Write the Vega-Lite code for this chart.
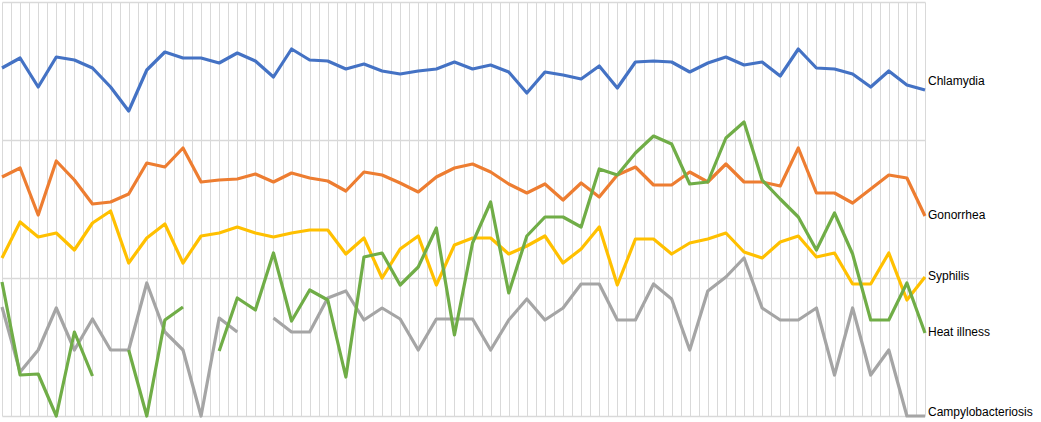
{
  "$schema": "https://vega.github.io/schema/vega-lite/v6.json",
  "width": 923,
  "height": 414,
  "autosize": {"type": "none"},
  "padding": {"left": 2, "top": 2, "right": 116, "bottom": 6},
  "background": "#ffffff",
  "config": {"view": {"stroke": null}},
  "datasets": {
    "rows": [
      {"s":"Campylobacteriosis","i":0,"v":109},{"s":"Campylobacteriosis","i":1,"v":44},{"s":"Campylobacteriosis","i":2,"v":66},{"s":"Campylobacteriosis","i":3,"v":108},{"s":"Campylobacteriosis","i":4,"v":66},{"s":"Campylobacteriosis","i":5,"v":97},{"s":"Campylobacteriosis","i":6,"v":66},{"s":"Campylobacteriosis","i":7,"v":66},{"s":"Campylobacteriosis","i":8,"v":133},{"s":"Campylobacteriosis","i":9,"v":84},{"s":"Campylobacteriosis","i":10,"v":66},{"s":"Campylobacteriosis","i":11,"v":0},{"s":"Campylobacteriosis","i":12,"v":98},{"s":"Campylobacteriosis","i":13,"v":84},{"s":"Campylobacteriosis","i":14,"v":null},{"s":"Campylobacteriosis","i":15,"v":98},{"s":"Campylobacteriosis","i":16,"v":84},{"s":"Campylobacteriosis","i":17,"v":84},{"s":"Campylobacteriosis","i":18,"v":118},{"s":"Campylobacteriosis","i":19,"v":125},{"s":"Campylobacteriosis","i":20,"v":96},{"s":"Campylobacteriosis","i":21,"v":108},{"s":"Campylobacteriosis","i":22,"v":97},{"s":"Campylobacteriosis","i":23,"v":66},{"s":"Campylobacteriosis","i":24,"v":97},{"s":"Campylobacteriosis","i":25,"v":97},{"s":"Campylobacteriosis","i":26,"v":97},{"s":"Campylobacteriosis","i":27,"v":66},{"s":"Campylobacteriosis","i":28,"v":96},{"s":"Campylobacteriosis","i":29,"v":117},{"s":"Campylobacteriosis","i":30,"v":96},{"s":"Campylobacteriosis","i":31,"v":108},{"s":"Campylobacteriosis","i":32,"v":132},{"s":"Campylobacteriosis","i":33,"v":132},{"s":"Campylobacteriosis","i":34,"v":96},{"s":"Campylobacteriosis","i":35,"v":96},{"s":"Campylobacteriosis","i":36,"v":132},{"s":"Campylobacteriosis","i":37,"v":117},{"s":"Campylobacteriosis","i":38,"v":66},{"s":"Campylobacteriosis","i":39,"v":125},{"s":"Campylobacteriosis","i":40,"v":139},{"s":"Campylobacteriosis","i":41,"v":158},{"s":"Campylobacteriosis","i":42,"v":108},{"s":"Campylobacteriosis","i":43,"v":96},{"s":"Campylobacteriosis","i":44,"v":96},{"s":"Campylobacteriosis","i":45,"v":108},{"s":"Campylobacteriosis","i":46,"v":41},{"s":"Campylobacteriosis","i":47,"v":108},{"s":"Campylobacteriosis","i":48,"v":41},{"s":"Campylobacteriosis","i":49,"v":66},{"s":"Campylobacteriosis","i":50,"v":0},{"s":"Campylobacteriosis","i":51,"v":0},
      {"s":"Chlamydia","i":0,"v":348},{"s":"Chlamydia","i":1,"v":358},{"s":"Chlamydia","i":2,"v":329},{"s":"Chlamydia","i":3,"v":359},{"s":"Chlamydia","i":4,"v":356},{"s":"Chlamydia","i":5,"v":348},{"s":"Chlamydia","i":6,"v":329},{"s":"Chlamydia","i":7,"v":305},{"s":"Chlamydia","i":8,"v":346},{"s":"Chlamydia","i":9,"v":364},{"s":"Chlamydia","i":10,"v":358},{"s":"Chlamydia","i":11,"v":358},{"s":"Chlamydia","i":12,"v":353},{"s":"Chlamydia","i":13,"v":363},{"s":"Chlamydia","i":14,"v":355},{"s":"Chlamydia","i":15,"v":339},{"s":"Chlamydia","i":16,"v":367},{"s":"Chlamydia","i":17,"v":356},{"s":"Chlamydia","i":18,"v":355},{"s":"Chlamydia","i":19,"v":347},{"s":"Chlamydia","i":20,"v":352},{"s":"Chlamydia","i":21,"v":345},{"s":"Chlamydia","i":22,"v":342},{"s":"Chlamydia","i":23,"v":345},{"s":"Chlamydia","i":24,"v":347},{"s":"Chlamydia","i":25,"v":354},{"s":"Chlamydia","i":26,"v":347},{"s":"Chlamydia","i":27,"v":351},{"s":"Chlamydia","i":28,"v":344},{"s":"Chlamydia","i":29,"v":323},{"s":"Chlamydia","i":30,"v":344},{"s":"Chlamydia","i":31,"v":341},{"s":"Chlamydia","i":32,"v":337},{"s":"Chlamydia","i":33,"v":350},{"s":"Chlamydia","i":34,"v":328},{"s":"Chlamydia","i":35,"v":354},{"s":"Chlamydia","i":36,"v":355},{"s":"Chlamydia","i":37,"v":354},{"s":"Chlamydia","i":38,"v":344},{"s":"Chlamydia","i":39,"v":353},{"s":"Chlamydia","i":40,"v":359},{"s":"Chlamydia","i":41,"v":351},{"s":"Chlamydia","i":42,"v":354},{"s":"Chlamydia","i":43,"v":340},{"s":"Chlamydia","i":44,"v":367},{"s":"Chlamydia","i":45,"v":348},{"s":"Chlamydia","i":46,"v":347},{"s":"Chlamydia","i":47,"v":342},{"s":"Chlamydia","i":48,"v":329},{"s":"Chlamydia","i":49,"v":345},{"s":"Chlamydia","i":50,"v":331},{"s":"Chlamydia","i":51,"v":326},
      {"s":"Gonorrhea","i":0,"v":239},{"s":"Gonorrhea","i":1,"v":248},{"s":"Gonorrhea","i":2,"v":201},{"s":"Gonorrhea","i":3,"v":255},{"s":"Gonorrhea","i":4,"v":236},{"s":"Gonorrhea","i":5,"v":212},{"s":"Gonorrhea","i":6,"v":214},{"s":"Gonorrhea","i":7,"v":222},{"s":"Gonorrhea","i":8,"v":253},{"s":"Gonorrhea","i":9,"v":249},{"s":"Gonorrhea","i":10,"v":268},{"s":"Gonorrhea","i":11,"v":234},{"s":"Gonorrhea","i":12,"v":236},{"s":"Gonorrhea","i":13,"v":237},{"s":"Gonorrhea","i":14,"v":242},{"s":"Gonorrhea","i":15,"v":234},{"s":"Gonorrhea","i":16,"v":243},{"s":"Gonorrhea","i":17,"v":238},{"s":"Gonorrhea","i":18,"v":235},{"s":"Gonorrhea","i":19,"v":225},{"s":"Gonorrhea","i":20,"v":244},{"s":"Gonorrhea","i":21,"v":241},{"s":"Gonorrhea","i":22,"v":233},{"s":"Gonorrhea","i":23,"v":224},{"s":"Gonorrhea","i":24,"v":239},{"s":"Gonorrhea","i":25,"v":248},{"s":"Gonorrhea","i":26,"v":252},{"s":"Gonorrhea","i":27,"v":244},{"s":"Gonorrhea","i":28,"v":232},{"s":"Gonorrhea","i":29,"v":223},{"s":"Gonorrhea","i":30,"v":232},{"s":"Gonorrhea","i":31,"v":216},{"s":"Gonorrhea","i":32,"v":233},{"s":"Gonorrhea","i":33,"v":219},{"s":"Gonorrhea","i":34,"v":241},{"s":"Gonorrhea","i":35,"v":249},{"s":"Gonorrhea","i":36,"v":231},{"s":"Gonorrhea","i":37,"v":231},{"s":"Gonorrhea","i":38,"v":244},{"s":"Gonorrhea","i":39,"v":234},{"s":"Gonorrhea","i":40,"v":252},{"s":"Gonorrhea","i":41,"v":234},{"s":"Gonorrhea","i":42,"v":234},{"s":"Gonorrhea","i":43,"v":230},{"s":"Gonorrhea","i":44,"v":268},{"s":"Gonorrhea","i":45,"v":223},{"s":"Gonorrhea","i":46,"v":223},{"s":"Gonorrhea","i":47,"v":213},{"s":"Gonorrhea","i":48,"v":227},{"s":"Gonorrhea","i":49,"v":241},{"s":"Gonorrhea","i":50,"v":238},{"s":"Gonorrhea","i":51,"v":200},
      {"s":"Syphilis","i":0,"v":158},{"s":"Syphilis","i":1,"v":194},{"s":"Syphilis","i":2,"v":179},{"s":"Syphilis","i":3,"v":183},{"s":"Syphilis","i":4,"v":166},{"s":"Syphilis","i":5,"v":193},{"s":"Syphilis","i":6,"v":205},{"s":"Syphilis","i":7,"v":153},{"s":"Syphilis","i":8,"v":178},{"s":"Syphilis","i":9,"v":192},{"s":"Syphilis","i":10,"v":153},{"s":"Syphilis","i":11,"v":180},{"s":"Syphilis","i":12,"v":183},{"s":"Syphilis","i":13,"v":189},{"s":"Syphilis","i":14,"v":183},{"s":"Syphilis","i":15,"v":179},{"s":"Syphilis","i":16,"v":183},{"s":"Syphilis","i":17,"v":186},{"s":"Syphilis","i":18,"v":186},{"s":"Syphilis","i":19,"v":162},{"s":"Syphilis","i":20,"v":178},{"s":"Syphilis","i":21,"v":138},{"s":"Syphilis","i":22,"v":167},{"s":"Syphilis","i":23,"v":180},{"s":"Syphilis","i":24,"v":131},{"s":"Syphilis","i":25,"v":171},{"s":"Syphilis","i":26,"v":178},{"s":"Syphilis","i":27,"v":178},{"s":"Syphilis","i":28,"v":162},{"s":"Syphilis","i":29,"v":170},{"s":"Syphilis","i":30,"v":180},{"s":"Syphilis","i":31,"v":153},{"s":"Syphilis","i":32,"v":167},{"s":"Syphilis","i":33,"v":189},{"s":"Syphilis","i":34,"v":131},{"s":"Syphilis","i":35,"v":177},{"s":"Syphilis","i":36,"v":177},{"s":"Syphilis","i":37,"v":162},{"s":"Syphilis","i":38,"v":173},{"s":"Syphilis","i":39,"v":177},{"s":"Syphilis","i":40,"v":183},{"s":"Syphilis","i":41,"v":164},{"s":"Syphilis","i":42,"v":158},{"s":"Syphilis","i":43,"v":174},{"s":"Syphilis","i":44,"v":180},{"s":"Syphilis","i":45,"v":159},{"s":"Syphilis","i":46,"v":163},{"s":"Syphilis","i":47,"v":132},{"s":"Syphilis","i":48,"v":132},{"s":"Syphilis","i":49,"v":163},{"s":"Syphilis","i":50,"v":116},{"s":"Syphilis","i":51,"v":139},
      {"s":"Heat illness","i":0,"v":134},{"s":"Heat illness","i":1,"v":41},{"s":"Heat illness","i":2,"v":42},{"s":"Heat illness","i":3,"v":0},{"s":"Heat illness","i":4,"v":84},{"s":"Heat illness","i":5,"v":40},{"s":"Heat illness","i":6,"v":null},{"s":"Heat illness","i":7,"v":66},{"s":"Heat illness","i":8,"v":0},{"s":"Heat illness","i":9,"v":96},{"s":"Heat illness","i":10,"v":109},{"s":"Heat illness","i":11,"v":null},{"s":"Heat illness","i":12,"v":65},{"s":"Heat illness","i":13,"v":118},{"s":"Heat illness","i":14,"v":106},{"s":"Heat illness","i":15,"v":163},{"s":"Heat illness","i":16,"v":95},{"s":"Heat illness","i":17,"v":126},{"s":"Heat illness","i":18,"v":116},{"s":"Heat illness","i":19,"v":39},{"s":"Heat illness","i":20,"v":159},{"s":"Heat illness","i":21,"v":163},{"s":"Heat illness","i":22,"v":131},{"s":"Heat illness","i":23,"v":149},{"s":"Heat illness","i":24,"v":188},{"s":"Heat illness","i":25,"v":81},{"s":"Heat illness","i":26,"v":173},{"s":"Heat illness","i":27,"v":214},{"s":"Heat illness","i":28,"v":123},{"s":"Heat illness","i":29,"v":180},{"s":"Heat illness","i":30,"v":199},{"s":"Heat illness","i":31,"v":199},{"s":"Heat illness","i":32,"v":189},{"s":"Heat illness","i":33,"v":247},{"s":"Heat illness","i":34,"v":241},{"s":"Heat illness","i":35,"v":263},{"s":"Heat illness","i":36,"v":280},{"s":"Heat illness","i":37,"v":272},{"s":"Heat illness","i":38,"v":232},{"s":"Heat illness","i":39,"v":234},{"s":"Heat illness","i":40,"v":278},{"s":"Heat illness","i":41,"v":294},{"s":"Heat illness","i":42,"v":236},{"s":"Heat illness","i":43,"v":217},{"s":"Heat illness","i":44,"v":199},{"s":"Heat illness","i":45,"v":166},{"s":"Heat illness","i":46,"v":203},{"s":"Heat illness","i":47,"v":162},{"s":"Heat illness","i":48,"v":96},{"s":"Heat illness","i":49,"v":96},{"s":"Heat illness","i":50,"v":133},{"s":"Heat illness","i":51,"v":83}
    ]
  },
  "data": {"name": "rows"},
  "encoding": {
    "x": {
      "field": "i", "type": "quantitative",
      "scale": {"domain": [0, 51], "nice": false, "zero": false},
      "axis": {
        "title": null, "labels": false, "ticks": false, "domain": false,
        "grid": true, "gridColor": "#D9D9D9", "gridWidth": 1,
        "values": [0,0.5,1,1.5,2,2.5,3,3.5,4,4.5,5,5.5,6,6.5,7,7.5,8,8.5,9,9.5,10,10.5,11,11.5,12,12.5,13,13.5,14,14.5,15,15.5,16,16.5,17,17.5,18,18.5,19,19.5,20,20.5,21,21.5,22,22.5,23,23.5,24,24.5,25,25.5,26,26.5,27,27.5,28,28.5,29,29.5,30,30.5,31,31.5,32,32.5,33,33.5,34,34.5,35,35.5,36,36.5,37,37.5,38,38.5,39,39.5,40,40.5,41,41.5,42,42.5,43,43.5,44,44.5,45,45.5,46,46.5,47,47.5,48,48.5,49,49.5,50,50.5,51]
      }
    },
    "y": {
      "field": "v", "type": "quantitative",
      "scale": {"domain": [0, 414], "nice": false, "zero": false},
      "axis": {
        "title": null, "labels": false, "ticks": false, "domain": false,
        "grid": true, "gridColor": "#D9D9D9", "gridWidth": 1.5,
        "values": [0, 138, 276, 414]
      }
    }
  },
  "layer": [
    {
      "mark": {"type": "line", "strokeWidth": 3.2, "strokeJoin": "round", "invalid": "break-paths-filter-domains", "clip": false},
      "encoding": {
        "color": {
          "field": "s", "type": "nominal", "legend": null,
          "scale": {
            "domain": ["Campylobacteriosis", "Chlamydia", "Gonorrhea", "Syphilis", "Heat illness"],
            "range": ["#A5A5A5", "#4472C4", "#ED7D31", "#FFC000", "#70AD47"]
          }
        },
        "detail": {"field": "s"}
      }
    },
    {
      "transform": [{"filter": "datum.i == 51 && datum.s == 'Chlamydia'"}],
      "mark": {"type": "text", "align": "left", "baseline": "middle", "dx": 3, "dy": -9, "font": "Liberation Sans", "fontSize": 12, "color": "#000000"},
      "encoding": {"text": {"field": "s"}}
    },
    {
      "transform": [{"filter": "datum.i == 51 && datum.s != 'Chlamydia' && datum.s != 'Campylobacteriosis'"}],
      "mark": {"type": "text", "align": "left", "baseline": "middle", "dx": 3, "dy": -1, "font": "Liberation Sans", "fontSize": 12, "color": "#000000"},
      "encoding": {"text": {"field": "s"}}
    },
    {
      "transform": [{"filter": "datum.i == 51 && datum.s == 'Campylobacteriosis'"}],
      "mark": {"type": "text", "align": "left", "baseline": "middle", "dx": 3, "dy": -4, "font": "Liberation Sans", "fontSize": 12, "color": "#000000"},
      "encoding": {"text": {"field": "s"}}
    }
  ]
}
